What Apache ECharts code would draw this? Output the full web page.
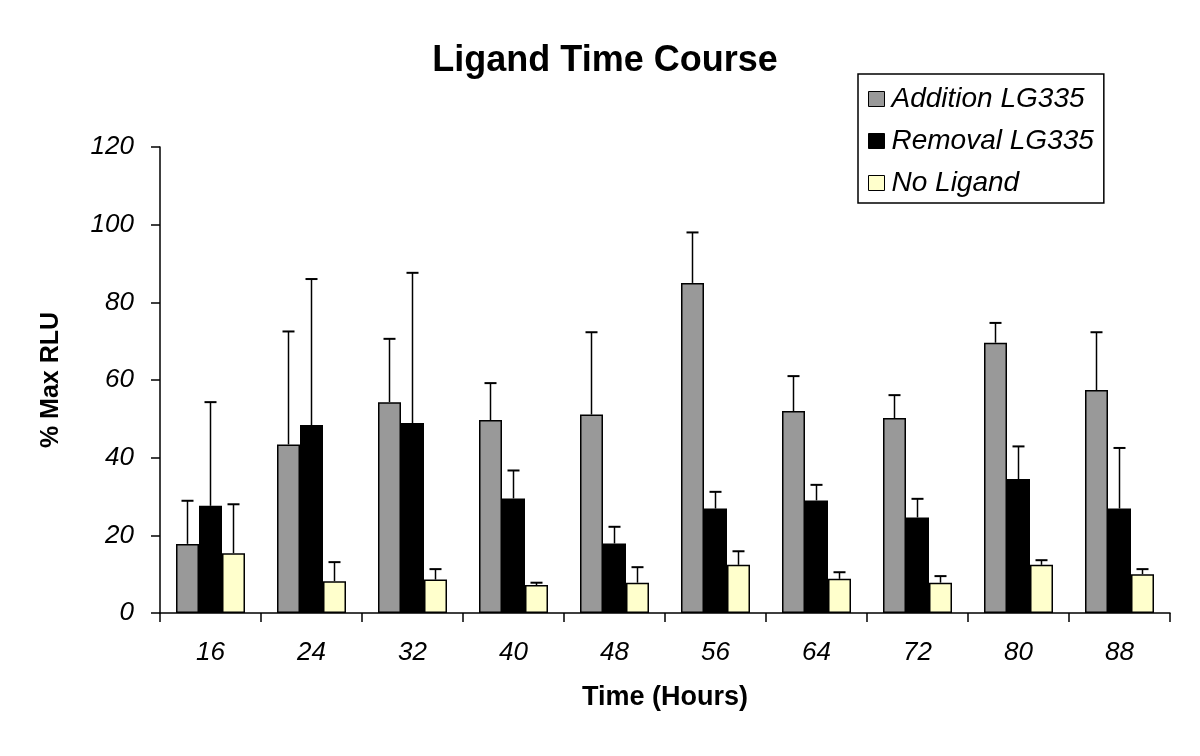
<!DOCTYPE html>
<html>
<head>
<meta charset="utf-8">
<script src="https://cdn.jsdelivr.net/npm/echarts@6/dist/echarts.min.js"></script>
<style>html,body{margin:0;padding:0;background:#fff}#c{width:1200px;height:756px}</style>
</head>
<body>
<div id="c"></div>
<script>
var categories = ['16', '24', '32', '40', '48', '56', '64', '72', '80', '88'];
var seriesNames = ['Addition LG335', 'Removal LG335', 'No Ligand'];
var additionVals = [17.8, 43.4, 54.3, 49.7, 51.1, 85.0, 52.0, 50.2, 69.6, 57.4];
var additionErr  = [11.1, 29.1, 16.3, 9.5, 21.2, 13.0, 9.0, 5.9, 5.1, 14.9];
var removalVals  = [27.6, 48.4, 48.9, 29.5, 17.9, 26.9, 29.0, 24.6, 34.5, 26.9];
var removalErr   = [26.7, 37.6, 38.7, 7.2, 4.3, 4.3, 4.0, 4.8, 8.4, 15.6];
var noLigandVals = [15.4, 8.2, 8.6, 7.2, 7.8, 12.4, 8.8, 7.8, 12.4, 10.0];
var noLigandErr  = [12.6, 4.9, 2.7, 0.6, 4.0, 3.5, 1.7, 1.7, 1.2, 1.3];
var yTicks = [0, 20, 40, 60, 80, 100, 120];

var colors = ['#999999', '#000000', '#FFFFCC'];
var BAR_W = 23;
var FONT = 'Liberation Sans, Arial, sans-serif';

var chart = echarts.init(document.getElementById('c'));

function barSeries(name, vals, color) {
  return {
    name: name, type: 'bar', data: vals, barWidth: BAR_W, barGap: '0%',
    itemStyle: { color: color, borderColor: '#000', borderWidth: 1.5 },
    z: 3
  };
}
function errSeries(idx, vals, errs) {
  var data = vals.map(function (v, i) { return [i, v, v + errs[i]]; });
  return {
    type: 'custom', name: seriesNames[idx] + ' err', z: 2,
    data: data,
    renderItem: function (params, api) {
      var base = api.coord([api.value(0), api.value(1)]);
      var top = api.coord([api.value(0), api.value(2)]);
      var x = base[0] + (idx - 1) * BAR_W;
      var cap = 6;
      return {
        type: 'group',
        children: [
          { type: 'line', shape: { x1: x, y1: base[1], x2: x, y2: top[1] }, style: { stroke: '#000', lineWidth: 1.5 } },
          { type: 'line', shape: { x1: x - cap, y1: top[1], x2: x + cap, y2: top[1] }, style: { stroke: '#000', lineWidth: 2 } }
        ]
      };
    },
    encode: { x: 0, y: [1, 2] },
    silent: true
  };
}

chart.setOption({
  animation: false,
  backgroundColor: '#fff',
  title: {
    text: 'Ligand Time Course', left: 600, top: 38, textAlign: 'center',
    textStyle: { fontFamily: FONT, fontSize: 36, fontWeight: 'bold', color: '#000' }
  },
  legend: {
    data: seriesNames, orient: 'vertical', left: 858, top: 74,
    backgroundColor: '#fff',
    borderColor: '#000', borderWidth: 1.5, borderRadius: 0,
    padding: [11, 10, 6, 10], itemGap: 14,
    itemWidth: 16, itemHeight: 15, icon: 'rect',
    itemStyle: { borderColor: '#000', borderWidth: 1 },
    textStyle: { fontFamily: FONT, fontSize: 28, fontStyle: 'italic', color: '#000', padding: [0, 0, 0, 2] }
  },
  grid: { left: 160, right: 30, top: 147, bottom: 143, containLabel: false },
  xAxis: {
    type: 'category', data: categories,
    name: 'Time (Hours)', nameLocation: 'middle', nameGap: 71,
    nameTextStyle: { fontFamily: FONT, fontSize: 27, fontWeight: 'bold', color: '#000' },
    axisLine: { lineStyle: { color: '#000', width: 1.5 } },
    axisTick: { show: true, length: 9, lineStyle: { color: '#000', width: 1.5 }, alignWithLabel: false },
    axisLabel: { fontFamily: FONT, fontSize: 26, fontStyle: 'italic', color: '#000', margin: 27 },
    splitLine: { show: false }
  },
  yAxis: {
    type: 'value', min: 0, max: 120, interval: 20,
    name: '% Max RLU', nameLocation: 'middle', nameGap: 96, nameRotate: 90,
    nameTextStyle: { fontFamily: FONT, fontSize: 25, fontWeight: 'bold', color: '#000' },
    axisLine: { show: true, lineStyle: { color: '#000', width: 1.5 } },
    axisTick: { show: true, length: 9, lineStyle: { color: '#000', width: 1.5 } },
    axisLabel: {
      fontFamily: FONT, fontSize: 26, fontStyle: 'italic', color: '#000', margin: 26,
      formatter: function (v) { return yTicks.indexOf(v) >= 0 ? String(v) : ''; }
    },
    splitLine: { show: false }
  },
  series: [
    barSeries(seriesNames[0], additionVals, colors[0]),
    barSeries(seriesNames[1], removalVals, colors[1]),
    barSeries(seriesNames[2], noLigandVals, colors[2]),
    errSeries(0, additionVals, additionErr),
    errSeries(1, removalVals, removalErr),
    errSeries(2, noLigandVals, noLigandErr)
  ]
});
</script>
</body>
</html>
